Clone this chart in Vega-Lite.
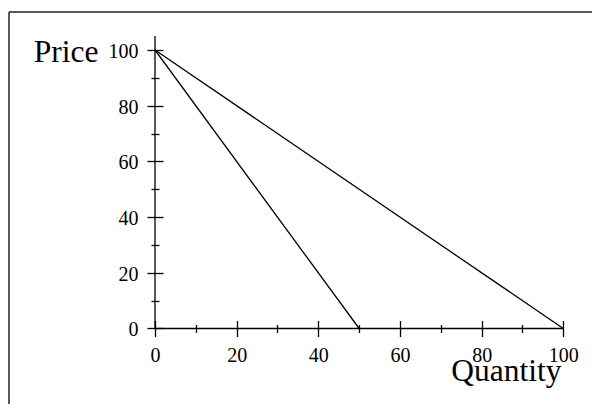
{
  "$schema": "https://vega.github.io/schema/vega-lite/v6.json",
  "width": 583,
  "height": 392,
  "autosize": {"type": "none"},
  "padding": {"left": 9, "top": 12, "right": 0, "bottom": 0},
  "background": "white",
  "config": {
    "view": {"stroke": null},
    "axis": {
      "grid": false,
      "domain": false,
      "labelFont": "Liberation Serif",
      "titleFont": "Liberation Serif",
      "labelColor": "black",
      "titleColor": "black",
      "tickColor": "black",
      "tickWidth": 1.3,
      "titleFontWeight": "normal",
      "labelFontSize": 20,
      "titleFontSize": 31.5,
      "labelFlush": false,
      "labelOverlap": false
    }
  },
  "resolve": {"axis": {"x": "independent", "y": "independent"}},
  "layer": [
    {
      "data": {
        "values": [
          {"curve": "A", "quantity": 0, "price": 100},
          {"curve": "A", "quantity": 50, "price": 0},
          {"curve": "B", "quantity": 0, "price": 100},
          {"curve": "B", "quantity": 100, "price": 0}
        ]
      },
      "mark": {"type": "line", "color": "black", "strokeWidth": 1.3},
      "encoding": {
        "x": {
          "field": "quantity",
          "type": "quantitative",
          "scale": {"domain": [-35.758, 107.029], "nice": false, "zero": false},
          "axis": {
            "orient": "bottom",
            "offset": -83.5,
            "tickSize": 16,
            "labelPadding": 9.2,
            "values": [0, 20, 40, 60, 80, 100],
            "title": "Quantity",
            "titleX": 552,
            "titleY": 59.5,
            "titleAlign": "right",
            "titleBaseline": "alphabetic"
          }
        },
        "y": {
          "field": "price",
          "type": "quantitative",
          "scale": {"domain": [-27.11, 113.645], "nice": false, "zero": false},
          "axis": {
            "orient": "left",
            "offset": -154,
            "tickSize": 16,
            "labelPadding": 9,
            "labelOffset": 1.5,
            "values": [0, 20, 40, 60, 80, 100],
            "title": "Price",
            "titleAngle": 0,
            "titleX": -65,
            "titleY": 49.7,
            "titleAlign": "right",
            "titleBaseline": "alphabetic"
          }
        },
        "detail": {"field": "curve"}
      }
    },
    {
      "data": {"values": [{}]},
      "mark": {"type": "rule", "color": "black", "strokeWidth": 1.3},
      "encoding": {
        "x": {
          "datum": 0,
          "type": "quantitative",
          "scale": {"domain": [-35.758, 107.029], "nice": false, "zero": false},
          "axis": {
            "orient": "bottom",
            "offset": -79.5,
            "tickSize": 8,
            "labels": false,
            "values": [10, 30, 50, 70, 90],
            "title": null
          }
        },
        "x2": {"datum": 100},
        "y": {
          "datum": 0,
          "type": "quantitative",
          "scale": {"domain": [-27.11, 113.645], "nice": false, "zero": false},
          "axis": {
            "orient": "left",
            "offset": -150,
            "tickSize": 8,
            "labels": false,
            "values": [10, 30, 50, 70, 90],
            "title": null
          }
        }
      }
    },
    {
      "data": {"values": [{}]},
      "mark": {"type": "rule", "color": "black", "strokeWidth": 1.3},
      "encoding": {
        "x": {
          "datum": 0,
          "type": "quantitative",
          "scale": {"domain": [-35.758, 107.029], "nice": false, "zero": false},
          "axis": null
        },
        "y": {
          "datum": 0,
          "type": "quantitative",
          "scale": {"domain": [-27.11, 113.645], "nice": false, "zero": false},
          "axis": null
        },
        "y2": {"datum": 105}
      }
    },
    {
      "data": {"values": [{}]},
      "mark": {"type": "rule", "color": "#222222", "strokeWidth": 1.5},
      "encoding": {
        "x": {
          "datum": -35.758,
          "type": "quantitative",
          "scale": {"domain": [-35.758, 107.029], "nice": false, "zero": false},
          "axis": null
        }
      }
    },
    {
      "data": {"values": [{}]},
      "mark": {"type": "rule", "color": "#222222", "strokeWidth": 1.5},
      "encoding": {
        "y": {
          "datum": 113.645,
          "type": "quantitative",
          "scale": {"domain": [-27.11, 113.645], "nice": false, "zero": false},
          "axis": null
        }
      }
    }
  ]
}
